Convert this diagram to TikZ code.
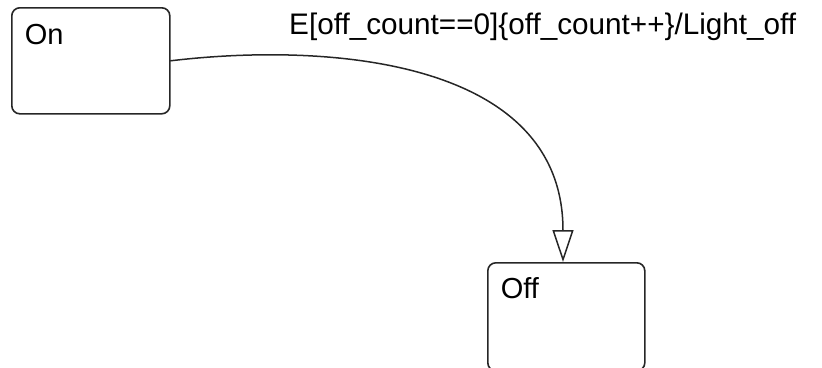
\documentclass[tikz,border=0pt]{standalone}
\usepackage{fontspec}
\setmainfont{Liberation Sans}
\usetikzlibrary{arrows.meta}
\tikzset{
  chartstate/.style={draw=black!85,line width=1.6pt,rounded corners=8pt,
    inner xsep=13pt,inner ysep=0pt,text width=132pt,align=left,
    text height=37pt,text depth=69pt,font=\fontsize{29}{32}\selectfont},
  chartlabel/.style={inner sep=0pt,anchor=base west,font=\fontsize{29.7}{32}\selectfont}
}
\begin{document}
\begin{tikzpicture}[x=1pt,y=-1pt,line cap=round,line join=round]
  \useasboundingbox (0,0) rectangle (822,367);
  \node[chartstate,anchor=north west] (on) at (11,7) {On};
  \node[chartstate,anchor=north west,text width=131pt,text height=36pt,text depth=72pt] (off) at (487,262) {Off};
  \coordinate (offin) at (563,262);
  \draw[draw=black!85,line width=1.5pt,-{Triangle[open,length=32pt,width=21pt,line width=1.5pt]}]
    (on.east) .. controls +(159,-19) and +(0,-202) .. (offin);
  \node[chartlabel] (ev) at (289,34) {E[off\_count==0]\{off\_count++\}/Light\_off};
\end{tikzpicture}
\end{document}
